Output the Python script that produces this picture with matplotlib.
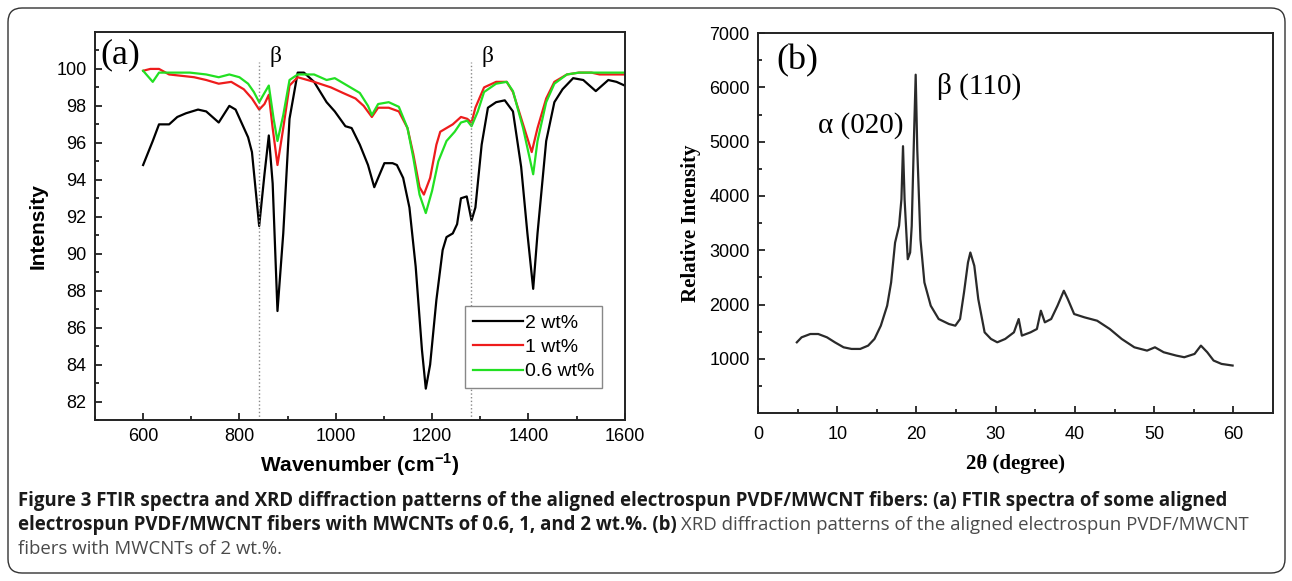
import matplotlib
matplotlib.use("Agg")
import matplotlib.pyplot as plt
from matplotlib.patches import FancyBboxPatch
from matplotlib.transforms import IdentityTransform

# ---- panel (a): FTIR spectra ----
wn_2 = [600, 620, 633, 654, 671, 689, 714, 731, 757, 779, 792, 818, 826, 841, 852, 861, 869, 879, 891,
        904, 921, 934, 955, 981, 998, 1020, 1033, 1050, 1067, 1080, 1088, 1101, 1118, 1127, 1140, 1153,
        1166, 1179, 1187, 1196, 1209, 1222, 1230, 1243, 1252, 1260, 1272, 1282, 1290, 1303, 1316, 1333,
        1351, 1368, 1385, 1398, 1410, 1419, 1437, 1454, 1471, 1493, 1514, 1540, 1566, 1583, 1600]
int_2 = [94.8, 96.1, 97.0, 97.0, 97.4, 97.6, 97.8, 97.7, 97.1, 98.0, 97.8, 96.3, 95.5, 91.5, 94.3, 96.4,
         93.8, 86.9, 91.1, 97.3, 99.8, 99.8, 99.3, 98.2, 97.7, 96.9, 96.8, 95.9, 94.8, 93.6, 94.1, 94.9,
         94.9, 94.8, 94.1, 92.5, 89.3, 84.8, 82.7, 84.0, 87.5, 90.2, 90.9, 91.1, 91.6, 93.0, 93.1, 91.8,
         92.5, 95.9, 97.9, 98.2, 98.3, 97.7, 94.7, 91.1, 88.1, 91.1, 96.1, 98.2, 98.9, 99.5, 99.4, 98.8,
         99.4, 99.3, 99.1]

wn_1 = [600, 615, 633, 654, 689, 706, 731, 757, 783, 809, 826, 841, 852, 861, 869, 879, 891, 904, 921,
        955, 990, 1015, 1041, 1058, 1075, 1088, 1110, 1131, 1149, 1161, 1174, 1183, 1196, 1209, 1217,
        1230, 1243, 1260, 1273, 1282, 1290, 1308, 1333, 1355, 1368, 1389, 1407, 1419, 1437, 1454, 1480,
        1505, 1531, 1548, 1600]
int_1 = [99.9, 100.0, 100.0, 99.7, 99.6, 99.55, 99.4, 99.2, 99.3, 98.9, 98.4, 97.8, 98.1, 98.6, 96.8,
         94.8, 96.8, 99.1, 99.55, 99.3, 99.0, 98.7, 98.4, 98.0, 97.4, 97.9, 97.9, 97.7, 96.8, 95.4, 93.6,
         93.2, 94.1, 95.9, 96.6, 96.8, 97.0, 97.4, 97.3, 97.1, 97.9, 99.0, 99.3, 99.3, 98.75, 97.0, 95.5,
         96.8, 98.4, 99.3, 99.7, 99.8, 99.8, 99.7, 99.7]

wn_06 = [600, 620, 633, 663, 697, 731, 757, 779, 800, 818, 830, 841, 852, 861, 871, 879, 891, 904, 921,
         955, 981, 998, 1024, 1050, 1067, 1075, 1088, 1110, 1131, 1149, 1161, 1174, 1187, 1200, 1213,
         1230, 1247, 1260, 1273, 1282, 1295, 1308, 1333, 1355, 1368, 1389, 1410, 1419, 1437, 1454, 1480,
         1505, 1600]
int_06 = [99.9, 99.3, 99.8, 99.8, 99.8, 99.7, 99.55, 99.7, 99.55, 99.2, 98.75, 98.2, 98.7, 99.1, 97.3,
          96.1, 97.5, 99.4, 99.7, 99.7, 99.4, 99.5, 99.1, 98.7, 98.0, 97.5, 98.1, 98.2, 97.95, 96.8, 95.2,
          93.2, 92.2, 93.4, 95.0, 96.1, 96.6, 97.1, 97.2, 96.9, 97.7, 98.75, 99.2, 99.3, 98.8, 96.8, 94.3,
          96.1, 98.2, 99.2, 99.7, 99.8, 99.8]

beta_lines = [840, 1280]

# ---- panel (b): XRD pattern ----
two_theta = [4.9, 5.5, 6.6, 7.6, 8.7, 9.7, 10.8, 11.8, 12.9, 13.9, 14.7, 15.5, 16.3, 16.8, 17.3, 17.8,
             18.1, 18.3, 18.5, 18.9, 19.2, 19.4, 19.7, 19.9, 20.1, 20.5, 21.0, 21.8, 22.8, 24.1, 24.9,
             25.5, 26.0, 26.5, 26.8, 27.3, 27.8, 28.6, 29.4, 30.2, 31.2, 32.3, 32.9, 33.3, 34.4, 35.2,
             35.7, 36.2, 37.0, 37.8, 38.6, 39.1, 39.9, 41.2, 42.8, 44.4, 45.9, 47.5, 49.1, 50.1, 51.2,
             52.8, 53.8, 55.1, 55.9, 56.7, 57.5, 58.5, 59.9]
rel_int = [1304, 1396, 1457, 1457, 1396, 1304, 1212, 1182, 1182, 1243, 1366, 1610, 1978, 2407, 3141,
           3448, 3938, 4917, 3938, 2835, 2958, 3448, 5162, 6234, 4856, 3203, 2407, 1978, 1733, 1641,
           1610, 1733, 2223, 2774, 2958, 2713, 2100, 1488, 1366, 1304, 1366, 1488, 1733, 1427, 1488,
           1549, 1886, 1672, 1733, 1978, 2254, 2100, 1825, 1764, 1702, 1549, 1366, 1212, 1151, 1212,
           1121, 1059, 1029, 1090, 1243, 1121, 968, 906, 876]

SANS = 'Liberation Sans'
SERIF = 'Liberation Serif'
CAP = 'Open Sans'
plt.rcParams['mathtext.fontset'] = 'custom'
plt.rcParams['mathtext.rm'] = SANS
plt.rcParams['mathtext.bf'] = SANS + ':bold'

fig = plt.figure(figsize=(12.92, 5.81), dpi=100)

# rounded frame around the whole figure
frame = FancyBboxPatch((8, 8), 1277, 565, boxstyle="round,pad=0,rounding_size=14",
                       transform=IdentityTransform(), fill=False, ec='#333333', lw=1.0)
fig.patches.append(frame)

# ---------- (a) ----------
ax1 = fig.add_axes([0.0735, 0.277, 0.410, 0.668])
ax1.plot(wn_2, int_2, color='black', lw=1.6, label='2 wt%')
ax1.plot(wn_1, int_1, color='#ee1c1c', lw=1.6, label='1 wt%')
ax1.plot(wn_06, int_06, color='#22e022', lw=1.6, label='0.6 wt%')
ax1.vlines(beta_lines, 81, 100.4, colors='#888888', linestyles=':', lw=1.0)
for xb in beta_lines:
    ax1.text(xb + 22, 100.65, 'β', family=SERIF, fontsize=17, ha='left', va='center')
ax1.text(512, 100.75, '(a)', family=SERIF, fontsize=26, ha='left', va='center')
ax1.set_xlim(500, 1600)
ax1.set_ylim(81, 102)
ax1.set_xticks(range(600, 1601, 200))
ax1.set_xticks(range(500, 1601, 100), minor=True)
ax1.set_yticks(range(82, 101, 2))
ax1.set_yticks(range(81, 102), minor=True)
ax1.set_xlabel(r'Wavenumber (cm$^{\mathbf{-1}}$)', family=SANS, fontsize=15, fontweight='bold', labelpad=4)
ax1.set_ylabel('Intensity', family=SANS, fontsize=15, fontweight='bold', labelpad=6)
leg = ax1.legend(loc='lower right', bbox_to_anchor=(0.976, 0.057), prop={'family': SANS, 'size': 14},
                 handlelength=2.6, handletextpad=0.1, fancybox=False, edgecolor='#888888',
                 borderpad=0.4, labelspacing=0.35, framealpha=1)
leg.get_frame().set_linewidth(1.0)

# ---------- (b) ----------
ax2 = fig.add_axes([0.5867, 0.289, 0.3986, 0.654])
ax2.plot(two_theta, rel_int, color='#2a2a2a', lw=1.6)
ax2.text(5.0, 6500, '(b)', family=SERIF, fontsize=26, ha='center', va='center')
ax2.text(13.0, 5300, 'α (020)', family=SERIF, fontsize=21, ha='center', va='center')
ax2.text(27.9, 6020, 'β (110)', family=SERIF, fontsize=21, ha='center', va='center')
ax2.set_xlim(0, 65)
ax2.set_ylim(0, 7000)
ax2.set_xticks(range(0, 61, 10))
ax2.set_xticks(range(5, 60, 10), minor=True)
ax2.set_yticks(range(1000, 7001, 1000))
ax2.set_yticks(range(500, 7000, 1000), minor=True)
ax2.set_xlabel('2θ (degree)', family=SERIF, fontsize=15, fontweight='bold', labelpad=8)
ax2.set_ylabel('Relative Intensity', family=SERIF, fontsize=15, fontweight='bold', labelpad=6)

for ax in (ax1, ax2):
    for s in ax.spines.values():
        s.set_linewidth(1.4)
        s.set_color('#222222')
    ax.tick_params(which='both', direction='in', top=False, right=False, width=1.3, color='#222222')
    ax.tick_params(which='major', length=5)
    ax.tick_params(which='minor', length=3)
    ax.tick_params(labelsize=13, pad=6)
    for lab in ax.get_xticklabels() + ax.get_yticklabels():
        lab.set_family(SANS)
ax2.tick_params(axis='x', pad=9)

# ---------- caption ----------
x0 = 18 / 1292
cap_kw = dict(family=CAP, va='baseline', ha='left')
t1 = fig.text(x0, 1 - 506 / 581,
              'Figure 3 FTIR spectra and XRD diffraction patterns of the aligned electrospun PVDF/MWCNT fibers: '
              '(a) FTIR spectra of some aligned', fontweight='bold', color='#1a1a1a', fontsize=14, **cap_kw)
fig.canvas.draw()
# fit the first caption line to the width it takes in the reference
cap_size = 14 * 1214 / t1.get_window_extent().width
t1.set_fontsize(cap_size)
t2 = fig.text(x0, 1 - 530 / 581, 'electrospun PVDF/MWCNT fibers with MWCNTs of 0.6, 1, and 2 wt.%. (b)',
              fontweight='bold', color='#1a1a1a', fontsize=cap_size, **cap_kw)
fig.canvas.draw()
bb = t2.get_window_extent()
fig.text((bb.x1 + 4) / 1292, 1 - 530 / 581,
         'XRD diffraction patterns of the aligned electrospun PVDF/MWCNT',
         color='#4a4a4a', fontsize=cap_size, **cap_kw)
fig.text(x0, 1 - 554 / 581, 'fibers with MWCNTs of 2 wt.%.', color='#4a4a4a', fontsize=cap_size, **cap_kw)

fig.savefig('out.png', dpi=100)
